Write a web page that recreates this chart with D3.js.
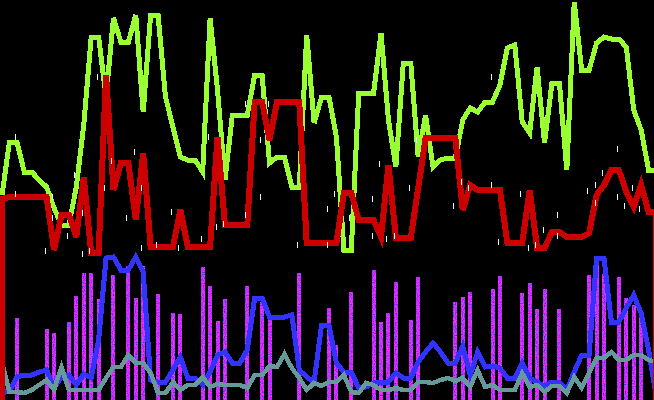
<!DOCTYPE html>
<html><head><meta charset="utf-8">
<script src="https://cdn.jsdelivr.net/npm/d3@7"></script>
<style>html,body{margin:0;padding:0;background:#000;overflow:hidden}</style>
</head><body><svg id="c" width="654" height="400"></svg>
<script>
// x positions are indices 0..88
const greenVals = [205,258,258,228,228,220,213,192,175,175,213,275,363,363,303,382,358,358,385,288,385,385,303,273,243,240,240,228,382,310,220,285,285,285,325,325,237,243,243,213,213,365,277,303,303,263,150,150,307,307,307,367,280,233,337,337,243,285,233,240,242,242,280,292,288,298,298,315,352,355,278,267,333,257,317,317,230,398,330,330,357,363,361,361,353,290,270,230,230];
const redVals = [201,203,203,203,203,203,203,150,185,185,163,223,147,147,325,210,237,237,180,247,153,153,153,153,190,153,153,153,153,263,175,175,175,175,298,298,260,298,298,298,298,157,157,157,157,157,207,207,180,180,180,163,235,162,162,162,212,262,262,262,262,262,190,215,210,210,210,210,157,157,157,210,152,152,168,168,163,163,163,167,205,215,230,230,208,193,215,188,188];
const blueVals = [7,9,23,25,25,28,30,12,23,25,15,26,22,60,142,143,130,130,143,128,20,18,18,30,43,22,22,15,28,45,48,37,37,50,102,102,83,83,83,85,30,23,18,75,75,37,28,28,12,13,17,18,18,27,22,22,38,48,57,48,37,37,54,25,48,33,34,32,22,22,37,22,18,14,18,18,10,28,45,45,142,142,78,78,92,105,87,50,5];
const tealVals = [38,8,8,7,10,15,20,10,33,10,10,10,10,10,22,33,33,45,37,37,27,7,7,18,10,15,15,23,13,16,15,15,15,12,25,25,34,33,46,32,22,10,17,14,18,18,25,8,7,17,15,10,10,12,10,10,18,18,17,20,22,19,22,13,30,13,15,10,10,10,27,13,15,8,14,14,7,23,12,27,42,42,48,40,40,45,45,40,38];
const barIdx  = [2,6,7,9,10,11,12,13,15,17,18,19,21,23,24,27,28,29,30,33,35,36,40,44,45,47,50,51,52,53,55,56,61,62,63,66,67,70,71,72,73,75,79,80,81,83,84,85,86];
const barVals = [82,71,67,78,104,127,127,101,125,134,102,134,106,87,86,133,114,79,101,114,98,85,127,92,55,108,130,78,87,118,80,123,98,103,108,111,124,107,117,91,111,91,125,140,126,123,102,95,85];
const tickIdx = [2,13,18,15,14,2,7,10,19,28,33,36,35,35,51,45,50,55,56,66,62,63,66,70,79,80,81,83,83,85,6,7,9,11,11,12,17,19,21,23,24,27,29,30,33,40,44,44,47,50,52,53,61,67,71,72,73,75,75,80,84,86];
const tickVals = [263,323,248,239,212,206,203,225,212,263,296,296,260,203,236,206,201,212,260,323,218,212,215,206,209,215,227,251,203,212,149,182,164,187,146,149,182,152,155,188,152,161,173,176,185,155,191,155,182,164,161,164,194,158,152,155,170,185,164,197,194,191];

const W = 654, H = 400;
const svg = d3.select('#c');
const defs = svg.append('defs');
const f = defs.append('filter').attr('id', 'noise')
  .attr('color-interpolation-filters', 'sRGB')
  .attr('x', '-10%').attr('y', '-10%').attr('width', '120%').attr('height', '120%');
f.append('feTurbulence').attr('type', 'fractalNoise').attr('baseFrequency', 0.9)
  .attr('numOctaves', 1).attr('seed', 4).attr('result', 't');
f.append('feColorMatrix').attr('in', 't').attr('type', 'matrix')
  .attr('values', '2.2 0 0 0 -0.3  0 0 0 0 0.18  0 0 0 0 1  0 0 0 0 1').attr('result', 'c');
f.append('feComposite').attr('in', 'c').attr('in2', 'SourceGraphic').attr('operator', 'in');

svg.append('rect').attr('width', W).attr('height', H).attr('fill', '#000');
const x = d3.scaleLinear().domain([0, 88]).range([2, 656]);
const y = d3.scaleLinear().domain([0, 400]).range([H, 0]);

// bars
svg.append('g').attr('shape-rendering', 'crispEdges').attr('filter', 'url(#noise)')
  .selectAll('rect').data(barIdx.map((d, k) => ({ i: d, v: barVals[k] }))).join('rect')
  .attr('x', d => x(d.i) - 2).attr('width', 4)
  .attr('y', d => y(d.v)).attr('height', d => y(0) - y(d.v))
  .attr('fill', '#cc33ff');

const line = d3.line().x((d, i) => x(i)).y(d => y(d));
function drawLine(vals, color, w) {
  svg.append('path').datum(vals).attr('d', line)
    .attr('fill', 'none').attr('stroke', color).attr('stroke-width', w)
    .attr('shape-rendering', 'crispEdges');
}
drawLine(greenVals, '#99ff33', 5);
drawLine(blueVals, '#3333ff', 5);
drawLine(tealVals, '#669999', 4.5);

const area = d3.area().x((d, i) => x(i)).y0(y(-10)).y1(d => y(d));
svg.append('path').datum(redVals).attr('d', area)
  .attr('fill', 'none').attr('stroke', '#cc0000').attr('stroke-width', 6)
  .attr('shape-rendering', 'crispEdges');

// small tick marks
svg.append('g').attr('shape-rendering', 'crispEdges')
  .selectAll('rect').data(tickIdx.map((d, k) => ({ i: d, v: tickVals[k] }))).join('rect')
  .attr('x', d => Math.round(x(d.i) - 2)).attr('width', 1)
  .attr('y', d => Math.round(y(d.v) - 3)).attr('height', 6)
  .attr('fill', '#ddffff');
</script>
</body></html>
